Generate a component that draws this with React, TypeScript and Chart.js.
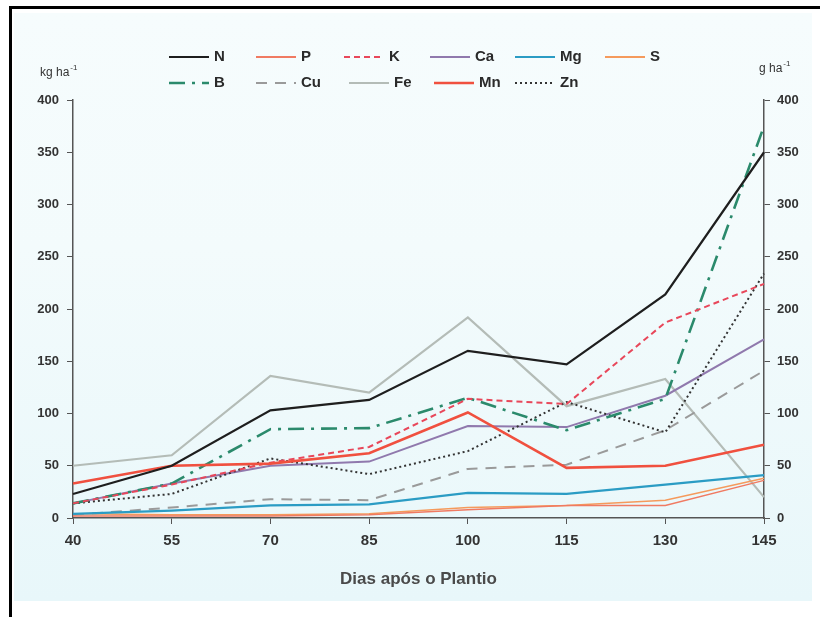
import React, { useEffect, useRef } from "react";
import { Chart, registerables } from "chart.js";

Chart.register(...registerables);

const days = ["40", "55", "70", "85", "100", "115", "130", "145"];
const yTicks = [0, 50, 100, 150, 200, 250, 300, 350, 400];

const N = [23, 50, 103, 113, 160, 147, 214, 350];
const P = [2, 2, 2, 3, 8, 12, 12, 36];
const K = [14, 32, 53, 68, 114, 109, 187, 224];
const Ca = [14, 33, 50, 54, 88, 87, 117, 171];
const Mg = [4, 7, 12, 13, 24, 23, 32, 41];
const S = [4, 3, 3, 4, 10, 12, 17, 38];
const B = [14, 33, 85, 86, 115, 84, 114, 375];
const Cu = [3, 10, 18, 17, 47, 51, 84, 141];
const Fe = [50, 60, 136, 120, 192, 107, 133, 20];
const Mn = [33, 50, 52, 62, 101, 48, 50, 70];
const Zn = [14, 23, 57, 42, 64, 111, 82, 234];

const legendRow1 = ["N", "P", "K", "Ca", "Mg", "S"];
const legendRow2 = ["B", "Cu", "Fe", "Mn", "Zn"];

const FONT = "'Liberation Sans', Arial, sans-serif";

const legendPlugin = {
  id: "gridLegend",
  afterDraw(chart: any) {
    const ctx = chart.ctx;
    const ds = chart.data.datasets;
    const find = (l: string) => ds.find((d: any) => d.label === l);
    const cols1 = [169, 256, 344, 430, 515, 605];
    const cols2 = [169, 256, 349, 434, 515];
    const drawRow = (labels: string[], cols: number[], y: number) => {
      labels.forEach((l, i) => {
        const d = find(l);
        if (!d) return;
        const x = cols[i];
        ctx.save();
        ctx.strokeStyle = d.borderColor;
        ctx.lineWidth = Math.max(d.borderWidth, 2);
        ctx.setLineDash(d.borderDash || []);
        ctx.beginPath();
        ctx.moveTo(x, y);
        ctx.lineTo(x + 40, y);
        ctx.stroke();
        ctx.setLineDash([]);
        ctx.fillStyle = "#2a2a2a";
        ctx.font = `bold 15px ${FONT}`;
        ctx.textBaseline = "middle";
        ctx.textAlign = "left";
        ctx.fillText(l, x + 45, y);
        ctx.restore();
      });
    };
    drawRow(legendRow1, cols1, 57);
    drawRow(legendRow2, cols2, 83);

    const unit = (x: number, y: number, base: string) => {
      ctx.save();
      ctx.fillStyle = "#333";
      ctx.textBaseline = "alphabetic";
      ctx.textAlign = "left";
      ctx.font = `12px ${FONT}`;
      ctx.fillText(base, x, y);
      const w = ctx.measureText(base).width;
      ctx.font = `8px ${FONT}`;
      ctx.fillText("-1", x + w + 1, y - 6);
      ctx.restore();
    };
    unit(40, 76, "kg ha");
    unit(759, 72, "g ha");
  },
};

export default function App() {
  const ref = useRef<HTMLCanvasElement>(null);
  useEffect(() => {
    const mk = (label: string, data: number[], color: string, width: number, dash: number[], axis: string) => ({
      label,
      data,
      borderColor: color,
      backgroundColor: color,
      borderWidth: width,
      borderDash: dash,
      pointRadius: 0,
      tension: 0,
      fill: false,
      yAxisID: axis,
    });
    const chart = new Chart(ref.current!, {
      type: "line",
      data: {
        labels: days,
        datasets: [
          mk("N", N, "#1e1e1e", 2.2, [], "y"),
          mk("Mn", Mn, "#f0503f", 2.6, [], "y1"),
          mk("K", K, "#e8475a", 2, [6, 4], "y"),
          mk("B", B, "#2b8a6c", 2.6, [16, 7, 3, 7], "y1"),
          mk("Zn", Zn, "#333333", 2, [2, 3], "y1"),
          mk("Ca", Ca, "#9079ad", 2, [], "y"),
          mk("P", P, "#f07a62", 1.5, [], "y"),
          mk("Mg", Mg, "#2b9cc4", 2.2, [], "y"),
          mk("S", S, "#f59a5c", 1.5, [], "y"),
          mk("Cu", Cu, "#9a9a9a", 2, [11, 8], "y1"),
          mk("Fe", Fe, "#b4bcb7", 2.2, [], "y1"),
        ],
      },
      options: {
        responsive: false,
        animation: false,
        layout: { padding: { left: 0, right: 0, top: 100, bottom: 27 } },
        plugins: { legend: { display: false }, tooltip: { enabled: false } },
        scales: {
          x: {
            type: "category",
            offset: false,
            grid: { drawOnChartArea: false, drawTicks: true, tickLength: 6, color: "#555" },
            border: { color: "#555", width: 1.5 },
            ticks: { color: "#333", font: { family: FONT, size: 15, weight: "bold" }, padding: 8, maxRotation: 0 },
            title: {
              display: true,
              text: "Dias após o Plantio",
              color: "#4a4a4a",
              font: { family: FONT, size: 17, weight: "bold" },
              padding: { top: 8, bottom: 0 },
            },
            afterFit: (s: any) => { s.height = 72; },
          },
          y: {
            position: "left",
            min: 0,
            max: 400,
            afterBuildTicks: (s: any) => { s.ticks = yTicks.map((v) => ({ value: v })); },
            grid: { drawOnChartArea: false, tickLength: 6, color: "#555" },
            border: { color: "#555", width: 1.5 },
            ticks: { color: "#333", font: { family: FONT, size: 13, weight: "bold" }, padding: 8 },
            afterFit: (s: any) => { s.width = 73; },
          },
          y1: {
            position: "right",
            min: 0,
            max: 400,
            afterBuildTicks: (s: any) => { s.ticks = yTicks.map((v) => ({ value: v })); },
            grid: { drawOnChartArea: false, tickLength: 6, color: "#555" },
            border: { color: "#555", width: 1.5 },
            ticks: { color: "#333", font: { family: FONT, size: 13, weight: "bold" }, padding: 7 },
            afterFit: (s: any) => { s.width = 56; },
          },
        },
      },
      plugins: [legendPlugin],
    });
    return () => chart.destroy();
  }, []);

  return (
    <div style={{ position: "absolute", left: 0, top: 0, width: 820, height: 617, background: "#ffffff", overflow: "hidden" }}>
      <div style={{ position: "absolute", left: 14, top: 13, width: 798, height: 588, background: "linear-gradient(180deg, #f6fcfd 0%, #f3fbfc 40%, #e8f7fa 100%)" }} />
      <div style={{ position: "absolute", left: 9, top: 6, width: 811, height: 3, background: "#000" }} />
      <div style={{ position: "absolute", left: 9, top: 6, width: 3, height: 611, background: "#000" }} />
      <canvas ref={ref} width={820} height={617} style={{ position: "absolute", left: 0, top: 0 }} />
    </div>
  );
}
